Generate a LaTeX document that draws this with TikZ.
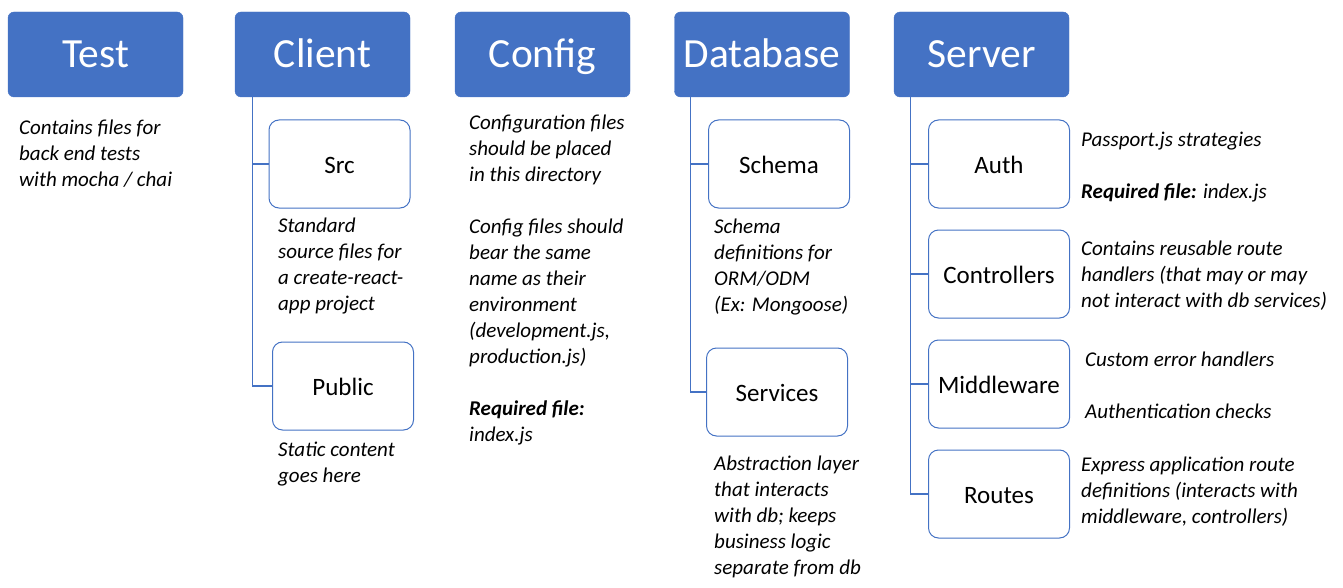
\documentclass[tikz,border=0pt]{standalone}
\usepackage{fontspec}
\setmainfont{Carlito}
\usepackage{xcolor}
\definecolor{boxblue}{HTML}{4472C4}
\tikzset{
	folder/.style={fill=boxblue, draw=boxblue, rounded corners=6pt, minimum width=175pt, minimum height=85pt, text=white, font=\fontsize{41.5}{49}\selectfont, inner sep=0, text height=32pt, text depth=5pt},
	subfolder/.style={draw=boxblue, fill=white, line width=1pt, rounded corners=10pt, minimum width=141pt, minimum height=88pt, font=\fontsize{25}{30}\selectfont, inner sep=0, text height=22pt, text depth=3pt},
	note/.style={anchor=north west, align=left, inner sep=0, font=\fontsize{21}{26}\selectfont\itshape},
	link/.style={draw=boxblue, line width=1.2pt},
}

\begin{document}
\begin{tikzpicture}[x=1pt,y=-1pt]
		\useasboundingbox (0,0) rectangle (1343,588);
		% top level folders
		\node[folder] (test) at (95.5,54.5) {Test};
		\node[folder] (client) at (322.5,54.5) {Client};
		\node[folder] (config) at (542.5,54.5) {Config};
		\node[folder] (database) at (762,54.5) {Database};
		\node[folder] (server) at (981.5,54.5) {Server};
		% sub folders
		\node[subfolder] (src) at (339.5,164) {Src};
		\node[subfolder] (public) at (343,386) {Public};
		\node[subfolder] (schema) at (779,164) {Schema};
		\node[subfolder] (services) at (777,392) {Services};
		\node[subfolder] (auth) at (999,164) {Auth};
		\node[subfolder] (controllers) at (999,274) {Controllers};
		\node[subfolder] (middleware) at (999,384) {Middleware};
		\node[subfolder] (routes) at (999,494) {Routes};
		% tree lines
		\coordinate (clientbus) at ([xshift=18pt]client.south west);
		\coordinate (databasebus) at ([xshift=16pt]database.south west);
		\coordinate (serverbus) at ([xshift=17pt]server.south west);
		\draw[link] (clientbus) |- (src.west);
		\draw[link] (clientbus) |- (public.west);
		\draw[link] (databasebus) |- (schema.west);
		\draw[link] (databasebus) |- (services.west);
		\foreach \sub in {auth,controllers,middleware,routes}
			\draw[link] (serverbus) |- (\sub.west);
		% notes
		\node[note] (testnote) at (19,120) {Contains files for\\back end tests\\with mocha / chai};
		\node[note] (srcnote) at (278,218) {Standard\\source files for\\a create-react-\\app project};
		\node[note] (publicnote) at (278,442) {Static content\\goes here};
		\node[note] (confignote) at (469,115) {Configuration files\\should be placed\\in this directory\\[26pt]Config files should\\bear the same\\name as their\\environment\\(development.js,\\production.js)\\[26pt]\textbf{Required file:}\\index.js};
		\node[note] (schemanote) at (714,219) {Schema\\definitions for\\ORM/ODM\\(Ex: Mongoose)};
		\node[note] (servicesnote) at (714,456) {Abstraction layer\\that interacts\\with db; keeps\\business logic\\separate from db};
		\node[note] (authnote) at (1081,132) {Passport.js strategies\\[26pt]\textbf{Required file:} index.js};
		\node[note] (controllersnote) at (1081,241) {Contains reusable route\\handlers (that may or may\\not interact with db services)};
		\node[note] (middlewarenote) at (1085,352) {Custom error handlers\\[26pt]Authentication checks};
		\node[note] (routesnote) at (1081,457) {Express application route\\definitions (interacts with\\middleware, controllers)};
	\end{tikzpicture}
\end{document}
